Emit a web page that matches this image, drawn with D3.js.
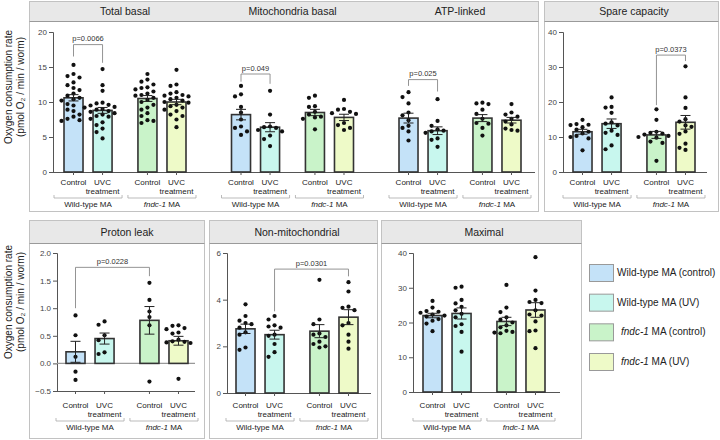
<!DOCTYPE html>
<html>
<head>
<meta charset="utf-8">
<script src="https://cdn.jsdelivr.net/npm/d3@7"></script>
<style>
  body { margin: 0; background: #fff; }
  text { font-family: "Liberation Sans", Arial, sans-serif; }
</style>
</head>
<body>
<script>
// ---- data ----
const genotypes = ["Wild-type MA", "fndc-1 MA"]
const conditions = ["Control", "UVC treatment"]
const groupKeys = ["wtCtrl", "wtUV", "fnCtrl", "fnUV"]
const groupColors = ["#c4e2f8", "#c8f7ee", "#c9f3c9", "#eefac8"]
const legendLabels = [["", "Wild-type MA (control)"], ["", "Wild-type MA (UV)"], ["fndc-1", " MA (control)"], ["fndc-1", " MA (UV)"]]

const meanTotalBasal = [10.6, 8.8, 10.5, 10.0]
const semTotalBasal = [0.45, 0.42, 0.42, 0.38]
const dotsTotalBasal = [
  [15.3, 13.7, 13.5, 14.0, 12.8, 12.4, 12.0, 11.7, 11.2, 10.9, 10.6, 10.4, 10.2, 9.7, 9.5, 8.9, 8.7, 8.2, 7.9, 7.6, 7.3, 7.4],
  [14.7, 12.4, 11.6, 9.9, 9.8, 9.6, 9.5, 9.3, 9.2, 9.0, 8.9, 8.7, 8.6, 8.4, 8.2, 8.0, 7.9, 7.6, 7.1, 6.7, 6.2, 5.7, 4.8],
  [14.0, 13.2, 12.9, 12.5, 12.1, 12.0, 11.8, 11.5, 11.2, 11.0, 10.9, 10.6, 10.3, 10.0, 9.6, 9.2, 8.9, 8.4, 8.0, 7.4, 7.3, 7.0],
  [14.6, 12.5, 12.3, 11.4, 11.2, 11.0, 10.9, 10.8, 10.6, 10.4, 10.2, 10.0, 9.9, 9.6, 9.4, 9.2, 8.9, 8.7, 8.2, 8.0, 7.5, 6.4]
]

const meanMitoBasal = [8.2, 6.4, 8.5, 7.8]
const semMitoBasal = [0.75, 0.65, 0.45, 0.45]
const dotsMitoBasal = [
  [12.3, 11.1, 10.8, 9.3, 8.5, 7.5, 6.5, 6.3, 5.8, 5.3],
  [11.6, 8.2, 6.5, 6.4, 6.3, 6.0, 5.8, 5.2, 4.7, 3.7],
  [10.9, 10.6, 9.4, 9.3, 8.6, 8.2, 7.9, 7.8, 7.6, 6.1],
  [10.3, 9.0, 8.9, 8.6, 8.4, 8.3, 7.0, 6.7, 6.3, 6.0]
]

const meanAtp = [7.7, 5.9, 7.7, 7.4]
const semAtp = [0.7, 0.55, 0.5, 0.4]
const dotsAtp = [
  [11.4, 10.7, 9.8, 8.5, 8.1, 7.4, 6.6, 6.3, 5.8, 4.5],
  [10.4, 7.3, 6.6, 6.1, 5.9, 5.8, 5.6, 4.8, 4.6, 3.6],
  [9.9, 9.8, 9.7, 8.9, 8.3, 7.6, 7.0, 6.9, 6.3, 5.2],
  [9.7, 8.5, 8.2, 7.9, 7.6, 7.2, 6.8, 6.2, 6.0, 5.9]
]

const meanSpare = [11.5, 13.8, 10.6, 14.2]
const semSpare = [0.7, 1.35, 1.0, 1.95]
const dotsSpare = [
  [14.9, 13.7, 13.5, 13.4, 12.8, 12.1, 11.5, 11.0, 10.3, 10.0, 9.6, 6.2],
  [21.3, 18.6, 18.4, 16.9, 14.2, 13.8, 13.3, 11.8, 11.2, 10.6, 7.6, 6.5],
  [17.9, 14.9, 11.5, 11.2, 11.0, 10.7, 10.3, 10.0, 9.8, 8.7, 8.3, 3.2],
  [30.2, 21.3, 18.3, 15.1, 14.4, 13.3, 12.9, 11.6, 10.9, 8.1, 6.9, 6.3]
]

const meanProton = [0.21, 0.45, 0.78, 0.41]
const semProton = [0.19, 0.1, 0.25, 0.08]
const dotsProton = [
  [0.87, 0.51, 0.12, -0.15, -0.30],
  [0.76, 0.70, 0.51, 0.42, 0.20, 0.17],
  [1.46, 1.15, 0.94, 0.84, 0.69, -0.33],
  [0.69, 0.68, 0.64, 0.62, 0.56, 0.54, 0.43, 0.40, 0.39, 0.38, 0.37, -0.28]
]

const meanNonMito = [2.75, 2.5, 2.65, 3.25]
const semNonMito = [0.2, 0.19, 0.28, 0.32]
const dotsNonMito = [
  [3.8, 3.3, 3.1, 3.0, 2.95, 2.8, 2.6, 2.5, 1.95, 1.85],
  [3.3, 3.15, 2.9, 2.85, 2.8, 2.5, 2.45, 2.1, 1.75, 1.55],
  [4.85, 3.15, 2.95, 2.55, 2.5, 2.4, 2.2, 2.1, 2.0, 1.95],
  [4.75, 4.35, 3.7, 3.65, 3.55, 3.0, 2.9, 2.5, 2.2, 1.9]
]

const meanMaximal = [22.0, 22.6, 20.3, 23.6]
const semMaximal = [0.65, 1.6, 1.2, 2.1]
const dotsMaximal = [
  [26.2, 24.3, 23.3, 23.1, 22.8, 22.3, 22.0, 21.7, 21.0, 20.5, 19.7, 17.5],
  [30.0, 30.3, 26.5, 25.5, 24.5, 23.5, 22.5, 21.5, 19.5, 19.0, 17.3, 11.6],
  [30.8, 24.3, 23.0, 21.5, 20.8, 20.0, 19.2, 18.6, 17.6, 17.3, 17.1, 16.9],
  [38.8, 29.2, 26.5, 25.9, 25.6, 23.5, 22.3, 22.0, 20.3, 17.7, 17.5, 12.6]
]

// significance brackets: measure, bar from, bar to, bracket level, leg ends, label
const sigMeasures = ["Total basal", "Mitochondria basal", "ATP-linked", "Spare capacity", "Proton leak", "Non-mitochondrial"]
const sigFrom = [0, 0, 0, 2, 0, 1]
const sigTo = [1, 1, 1, 3, 2, 3]
const sigLevel = [18.2, 14.0, 13.2, 33.4, 1.74, 5.31]
const sigFromEnd = [16.5, 12.9, 12.3, 19.1, 1.0, 3.5]
const sigToEnd = [15.6, 12.6, 11.5, 31.7, 1.58, 5.0]
const sigLabels = ["p=0.0066", "p=0.049", "p=0.025", "p=0.0373", "p=0.0228", "p=0.0301"]

const ticksBasal = [0, 5, 10, 15, 20]
const ticksSpare = [0, 10, 20, 30, 40]
const ticksProton = [-0.5, 0, 0.5, 1.0, 1.5, 2.0]
const ticksNonMito = [0, 2, 4, 6]
const ticksMaximal = [0, 10, 20, 30, 40]

const yTitle1 = "Oxygen consumption rate"
const yTitle2 = "(pmol O\u2082 / min / worm)"

// table built from the arrays above
const measureData = {
  "Total basal": {mean: meanTotalBasal, sem: semTotalBasal, dots: dotsTotalBasal},
  "Mitochondria basal": {mean: meanMitoBasal, sem: semMitoBasal, dots: dotsMitoBasal},
  "ATP-linked": {mean: meanAtp, sem: semAtp, dots: dotsAtp},
  "Spare capacity": {mean: meanSpare, sem: semSpare, dots: dotsSpare},
  "Proton leak": {mean: meanProton, sem: semProton, dots: dotsProton},
  "Non-mitochondrial": {mean: meanNonMito, sem: semNonMito, dots: dotsNonMito},
  "Maximal": {mean: meanMaximal, sem: semMaximal, dots: dotsMaximal}
}

// ---- layout ----
const panels = [
  {x: 29, y: 1, w: 509, h: 210, head: 20, measures: ["Total basal", "Mitochondria basal", "ATP-linked"],
   band: [50, 552.5], axisX: 53, axisEnd: 535, yDomain: [0, 20], yRange: [172, 32], ticks: ticksBasal, fmt: d3.format("d"), labelTop: 182},
  {x: 544, y: 1, w: 174, h: 210, head: 20, measures: ["Spare capacity"],
   band: [559, 726.5], axisX: 563, axisEnd: 707, yDomain: [0, 40], yRange: [172, 32], ticks: ticksSpare, fmt: d3.format("d"), labelTop: 182},
  {x: 29, y: 220, w: 175, h: 218, head: 23, measures: ["Proton leak"],
   band: [52, 219.5], axisX: 57, axisEnd: 195, yDomain: [-0.5, 2], yRange: [391, 253], ticks: ticksProton, fmt: d3.format(".1f"), labelTop: 405},
  {x: 209, y: 220, w: 168, h: 218, head: 23, measures: ["Non-mitochondrial"],
   band: [222, 389.5], axisX: 227, axisEnd: 371, yDomain: [0, 6], yRange: [393, 253], ticks: ticksNonMito, fmt: d3.format("d"), labelTop: 405},
  {x: 381, y: 220, w: 200, h: 218, head: 23, measures: ["Maximal"],
   band: [409, 576.5], axisX: 413, axisEnd: 560, yDomain: [0, 40], yRange: [392, 253], ticks: ticksMaximal, fmt: d3.format("d"), labelTop: 405}
]

const svg = d3.select("body").append("svg")
  .attr("width", 720)
  .attr("height", 440)

// simple swarm so dots sit side by side like the original
function swarm(values, cx, y, r) {
  const placed = []
  const offs = [0, -6, 6, -12, 12, -18, 18]
  return values.slice().sort((a, b) => b - a).map(v => {
    const py = y(v)
    let px = cx
    for (const o of offs) {
      const c = cx + o
      if (placed.every(p => Math.hypot(p[0] - c, p[1] - py) >= 2 * r + 1.2)) { px = c; break }
    }
    placed.push([px, py])
    return [px, py]
  })
}

const barCenters = {}

panels.forEach(p => {
  const g = svg.append("g")

  // frame + header
  g.append("rect").attr("x", p.x + 0.5).attr("y", p.y + 0.5).attr("width", p.w).attr("height", p.h)
    .attr("fill", "#fff").attr("stroke", "#c2c2c2")
  g.append("rect").attr("x", p.x + 0.5).attr("y", p.y + 0.5).attr("width", p.w).attr("height", p.head)
    .attr("fill", "#e8e8e8").attr("stroke", "#c2c2c2")
  g.append("line").attr("x1", p.x + 0.5).attr("x2", p.x + p.w + 0.5)
    .attr("y1", p.y + p.head + 0.5).attr("y2", p.y + p.head + 0.5).attr("stroke", "#9a9a9a")

  const y = d3.scaleLinear().domain(p.yDomain).range(p.yRange)
  const outer = d3.scaleBand().domain(p.measures).range(p.band)

  // y axis
  const yAxis = g.append("g")
    .attr("transform", `translate(${p.axisX},0)`)
    .call(d3.axisLeft(y).tickValues(p.ticks).tickSize(4).tickPadding(2).tickFormat(p.fmt))
  yAxis.select(".domain").attr("stroke", "#555")
  yAxis.selectAll(".tick line").attr("stroke", "#555")
  yAxis.selectAll(".tick text").attr("fill", "#444").style("font-size", "8px")
    .style("font-family", "'Liberation Sans', Arial, sans-serif")

  const yBase = p.yRange[0]
  // zero line when domain goes below zero
  if (p.yDomain[0] < 0) {
    g.append("line").attr("x1", p.axisX).attr("x2", p.axisEnd)
      .attr("y1", y(0)).attr("y2", y(0)).attr("stroke", "#999").attr("stroke-width", 1.2)
  }
  g.append("line").attr("x1", p.axisX).attr("x2", p.axisEnd)
    .attr("y1", yBase + 0.5).attr("y2", yBase + 0.5).attr("stroke", "#555")

  p.measures.forEach(m => {
    const d = measureData[m]
    const x0 = outer(m) + 14
    const gx = d3.scaleBand().domain(genotypes).range([x0, x0 + 122]).paddingInner(0.35)
    const cx = d3.scaleBand().domain(conditions).range([0, gx.bandwidth()]).paddingInner(0.345)
    const bw = cx.bandwidth()
    const xs = groupKeys.map((k, i) => gx(genotypes[i >> 1]) + cx(conditions[i % 2]))
    barCenters[m] = {xs: xs.map(v => v + bw / 2), y: y}

    // header title
    g.append("text").attr("x", x0 + 61).attr("y", p.y + p.head / 2 + 4)
      .attr("text-anchor", "middle").attr("fill", "#222").style("font-size", "10.5px").text(m)

    // bars
    g.selectAll(null).data(d.mean).enter().append("rect")
      .attr("x", (v, i) => xs[i])
      .attr("y", v => y(Math.max(v, 0)))
      .attr("width", bw)
      .attr("height", v => Math.abs(y(v) - y(0)))
      .attr("fill", (v, i) => groupColors[i])
      .attr("stroke", "#333")
      .attr("stroke-width", 1.6)

    // dots
    d.dots.forEach((vals, i) => {
      const pts = swarm(vals, xs[i] + bw / 2, y, 2.1)
      g.selectAll(null).data(pts).enter().append("circle")
        .attr("cx", q => q[0]).attr("cy", q => q[1]).attr("r", 2.1).attr("fill", "#111")
    })

    // error bars
    d.mean.forEach((v, i) => {
      const c = xs[i] + bw / 2
      const lo = y(v - d.sem[i]), hi = y(v + d.sem[i])
      g.append("line").attr("x1", c).attr("x2", c).attr("y1", lo).attr("y2", hi).attr("stroke", "#222")
      g.append("line").attr("x1", c - 5).attr("x2", c + 5).attr("y1", lo).attr("y2", lo).attr("stroke", "#222")
      g.append("line").attr("x1", c - 5).attr("x2", c + 5).attr("y1", hi).attr("y2", hi).attr("stroke", "#222")
      // small x tick
      g.append("line").attr("x1", c).attr("x2", c).attr("y1", yBase).attr("y2", yBase + 3).attr("stroke", "#555")
    })

    // category labels
    xs.forEach((xv, i) => {
      const c = xv + bw / 2
      const lab = conditions[i % 2].split(" ")
      lab.forEach((w, j) => {
        g.append("text").attr("x", c).attr("y", p.labelTop + 3 + j * 9)
          .attr("text-anchor", "middle").attr("fill", "#222").style("font-size", "8px").text(w)
      })
    })

    // genotype brackets and labels
    genotypes.forEach(gn => {
      const a = gx(gn) - 10, b = gx(gn) + gx.bandwidth() + 10
      const yb = p.labelTop + 16
      g.append("path").attr("d", `M${a},${yb - 3}V${yb}H${b}V${yb - 3}`)
        .attr("fill", "none").attr("stroke", "#aaa").attr("stroke-width", 0.8)
      const t = g.append("text").attr("x", gx(gn) + gx.bandwidth() / 2).attr("y", p.labelTop + 25)
        .attr("text-anchor", "middle").attr("fill", "#222").style("font-size", "8px")
      if (gn.startsWith("fndc")) {
        t.append("tspan").style("font-style", "italic").text("fndc-1")
        t.append("tspan").text(" MA")
      } else {
        t.text(gn)
      }
    })
  })
})

// significance brackets
sigMeasures.forEach((m, k) => {
  const bc = barCenters[m]
  const y = bc.y
  const xa = bc.xs[sigFrom[k]], xb = bc.xs[sigTo[k]]
  const yl = y(sigLevel[k])
  svg.append("path")
    .attr("d", `M${xa},${y(sigFromEnd[k])}V${yl}H${xb}V${y(sigToEnd[k])}`)
    .attr("fill", "none").attr("stroke", "#888").attr("stroke-width", 0.9)
  svg.append("text").attr("x", (xa + xb) / 2).attr("y", yl - 3.5)
    .attr("text-anchor", "middle").attr("fill", "#333").style("font-size", "7.5px").text(sigLabels[k])
})

// y axis titles
const titleCenters = [87, 302]
titleCenters.forEach(cy => {
  const t = svg.append("g").attr("transform", `translate(0,${cy})`)
  t.append("text").attr("transform", "translate(12,0) rotate(-90)")
    .attr("text-anchor", "middle").attr("fill", "#222").style("font-size", "10px").text(yTitle1)
  t.append("text").attr("transform", "translate(24,0) rotate(-90)")
    .attr("text-anchor", "middle").attr("fill", "#222").style("font-size", "10px").text(yTitle2)
})

// legend
const ly = d3.scalePoint().domain(groupKeys).range([264, 353])
groupKeys.forEach((k, i) => {
  svg.append("rect").attr("x", 589.5).attr("y", ly(k) + 0.5).attr("width", 24).attr("height", 17)
    .attr("fill", groupColors[i]).attr("stroke", "#999")
  const t = svg.append("text").attr("x", legendLabels[i][0] ? 621 : 617).attr("y", ly(k) + 12)
    .attr("fill", "#222").style("font-size", "10px")
  if (legendLabels[i][0]) t.append("tspan").style("font-style", "italic").text(legendLabels[i][0])
  t.append("tspan").text(legendLabels[i][1])
})
</script>
</body>
</html>
